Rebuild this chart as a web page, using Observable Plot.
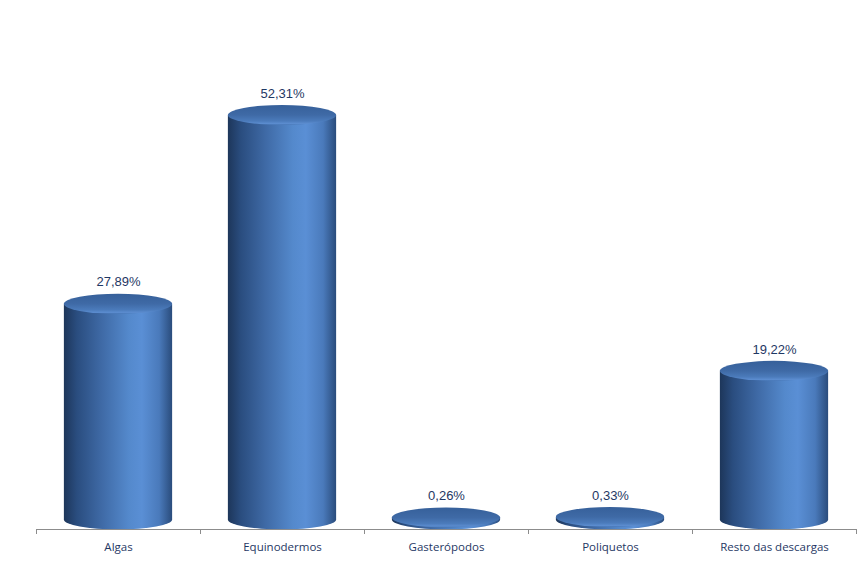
<!DOCTYPE html>
<html>
<head>
<meta charset="utf-8">
<script src="https://cdn.jsdelivr.net/npm/d3@7"></script>
<script src="https://cdn.jsdelivr.net/npm/@observablehq/plot@0.6"></script>
<style>
  html, body { margin: 0; padding: 0; background: #fff; }
  #chart svg { display: block; }
</style>
</head>
<body>
<div id="chart"></div>
<script>
const categories = ["Algas", "Equinodermos", "Gasterópodos", "Poliquetos", "Resto das descargas"];
const values = [27.89, 52.31, 0.26, 0.33, 19.22];

const data = categories.map((c, i) => ({cat: c, value: values[i]}));
const fmt = v => v.toFixed(2).replace(".", ",") + "%";

function cylinders(index, scales, vals, dims) {
  const x = scales.x, y = scales.y;
  const step = x(categories[1]) - x(categories[0]);
  const g = d3.create("svg:g");
  const defs = g.append("defs");
  const body = defs.append("linearGradient").attr("id", "cylBody")
    .attr("x1", 0).attr("x2", 1).attr("y1", 0).attr("y2", 0);
  [[0, "#1d365a"], [0.12, "#2a4d7f"], [0.35, "#3f6aa6"], [0.6, "#5489cc"], [0.72, "#5a8fd5"],
   [0.88, "#4a7abb"], [1, "#2a4c7c"]].forEach(([o, c]) =>
    body.append("stop").attr("offset", o).attr("stop-color", c));
  const top = defs.append("linearGradient").attr("id", "cylTop")
    .attr("x1", 0).attr("x2", 0).attr("y1", 0).attr("y2", 1);
  [[0, "#36609a"], [0.5, "#3f6aa6"], [0.8, "#4b7bbb"], [0.93, "#5b8ccf"], [1, "#4675b4"]].forEach(([o, c]) =>
    top.append("stop").attr("offset", o).attr("stop-color", c));

  const y0 = y(0);
  const ry = 10;
  for (const i of index) {
    const d = data[i];
    const cx = x(d.cat) + step / 2;
    const rx = step * 0.33;
    const yt = y(d.value);
    g.append("path")
      .attr("d", `M${cx - rx},${yt} L${cx - rx},${y0} A${rx},${ry} 0 0 0 ${cx + rx},${y0} L${cx + rx},${yt} Z`)
      .attr("fill", "url(#cylBody)");
    g.append("ellipse")
      .attr("cx", cx).attr("cy", yt).attr("rx", rx).attr("ry", ry)
      .attr("fill", "url(#cylTop)");
  }
  // baseline and ticks at band edges
  const yb = dims.height - dims.marginBottom;
  const x0 = x(categories[0]);
  const x1 = x(categories[categories.length - 1]) + step;
  g.append("line").attr("x1", x0).attr("x2", x1).attr("y1", yb + 0.5).attr("y2", yb + 0.5)
    .attr("stroke", "#8c8c8c");
  for (let k = 0; k <= categories.length; k++) {
    const xx = Math.round(x0 + k * step) + 0.5;
    g.append("line").attr("x1", xx).attr("x2", xx).attr("y1", yb).attr("y2", yb + 5)
      .attr("stroke", "#8c8c8c");
  }
  return g.node();
}

const chart = Plot.plot({
  width: 867,
  height: 583,
  marginLeft: 34,
  marginRight: 9,
  marginTop: 20,
  marginBottom: 54,
  x: {type: "band", domain: categories, padding: 0, axis: null, label: null},
  y: {domain: [0, 60], range: [519.5, 519.5 - 60 * 7.733], axis: null},
  style: {fontFamily: "'Liberation Sans', Arial, sans-serif", background: "#fff"},
  marks: [
    Plot.dot(data, {x: "cat", y: "value", render: cylinders}),
    Plot.text(data, {x: "cat", y: "value", text: d => fmt(d.value), dy: -22,
      fontSize: 13, fill: "#1f3864", fontFamily: "'Liberation Sans', Arial, sans-serif"}),
    Plot.axisX({tickSize: 0, tickPadding: 13, fontSize: 11.5, fill: "#1f3864", label: null,
      fontFamily: "'Open Sans', 'Noto Sans', sans-serif"})
  ]
});
document.getElementById("chart").appendChild(chart);
</script>
</body>
</html>
